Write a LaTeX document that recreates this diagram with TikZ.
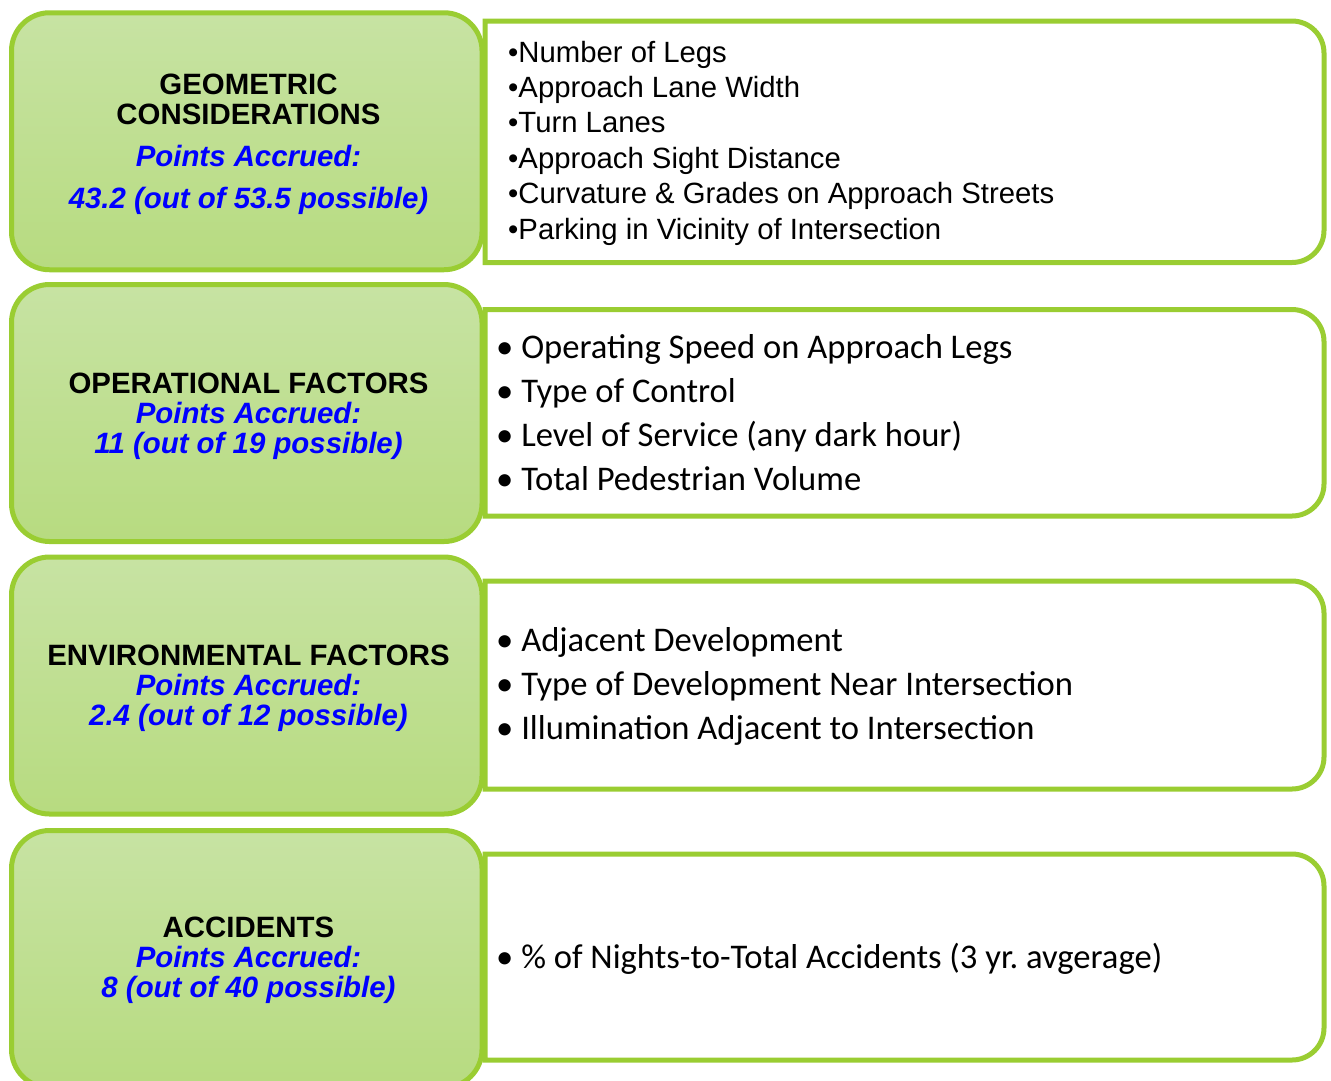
\documentclass[tikz,border=0pt]{standalone}
\usepackage{fontspec}
\setmainfont{Liberation Sans}
\newfontfamily\calibrifont{Carlito}
\usepackage{tikz}
\definecolor{leafline}{HTML}{9ACD32}
\definecolor{leaftop}{HTML}{C7E3A3}
\definecolor{leafbot}{HTML}{B7DB80}
\newcommand{\accrued}[1]{\textcolor{blue}{\itshape #1}}

\begin{document}
\begin{tikzpicture}[x=1pt,y=1pt,
    scorebox/.style={draw=leafline,line width=5pt,rounded corners=38pt,top color=leaftop,bottom color=leafbot,minimum width=470.5pt,minimum height=257pt,inner sep=0pt,outer sep=0pt},
    listbox/.style={draw=leafline,line width=5pt,fill=white},
    heading/.style={anchor=base,align=center,inner sep=0pt,font=\fontsize{29.4}{30}\selectfont\bfseries},
    arialist/.style={anchor=base west,align=left,inner sep=0pt,font=\fontsize{29.3}{35.4}\selectfont},
    calist/.style={anchor=base west,align=left,inner sep=0pt,font=\calibrifont\fontsize{34.6}{44}\selectfont}]
\useasboundingbox (0,0) rectangle (1331,-1080);
% right-hand lists
\draw[listbox] (485,-21) -- (1292,-21) arc[start angle=90,end angle=0,radius=32] -- (1324,-230.5) arc[start angle=0,end angle=-90,radius=32] -- (485,-262.5) -- cycle;
\draw[listbox] (485,-309.5) -- (1292,-309.5) arc[start angle=90,end angle=0,radius=32] -- (1324,-484) arc[start angle=0,end angle=-90,radius=32] -- (485,-516) -- cycle;
\draw[listbox] (485,-581) -- (1292,-581) arc[start angle=90,end angle=0,radius=32] -- (1324,-757) arc[start angle=0,end angle=-90,radius=32] -- (485,-789) -- cycle;
\draw[listbox] (485,-854) -- (1292,-854) arc[start angle=90,end angle=0,radius=32] -- (1324,-1028) arc[start angle=0,end angle=-90,radius=32] -- (485,-1060) -- cycle;
% score boxes
\node[scorebox] (geo) at (246.75,-141.25) {};
\node[scorebox] (oper) at (246.75,-413) {};
\node[scorebox] (envi) at (246.75,-685.5) {};
\node[scorebox] (accid) at (246.75,-959) {};
% base anchor sits on the last line
\node[heading] (geotext) at (248.5,-208) {GEOMETRIC\\CONSIDERATIONS\\[12pt]\accrued{Points Accrued:}\\[12pt]\accrued{43.2 (out of 53.5 possible)}};
\node[heading] (opertext) at (248.5,-453.5) {OPERATIONAL FACTORS\\\accrued{Points Accrued:}\\\accrued{11 (out of 19 possible)}};
\node[heading] (envitext) at (248.5,-725.5) {ENVIRONMENTAL FACTORS\\\accrued{Points Accrued:}\\\accrued{2.4 (out of 12 possible)}};
\node[heading] (accidtext) at (248.5,-997.5) {ACCIDENTS\\\accrued{Points Accrued:}\\\accrued{8 (out of 40 possible)}};
\node[arialist] (geolist) at (508,-239) {•Number of Legs\\•Approach Lane Width\\•Turn Lanes\\•Approach Sight Distance\\•Curvature \& Grades on Approach Streets\\•Parking in Vicinity of Intersection};
\node[calist] (operlist) at (496,-490) {• Operating Speed on Approach Legs\\• Type of Control\\• Level of Service (any dark hour)\\• Total Pedestrian Volume};
\node[calist] (envilist) at (496,-739) {• Adjacent Development\\• Type of Development Near Intersection\\• Illumination Adjacent to Intersection};
\node[calist] (accidlist) at (496,-968) {• \% of Nights-to-Total Accidents (3 yr.\ avgerage)};
\end{tikzpicture}
\end{document}
